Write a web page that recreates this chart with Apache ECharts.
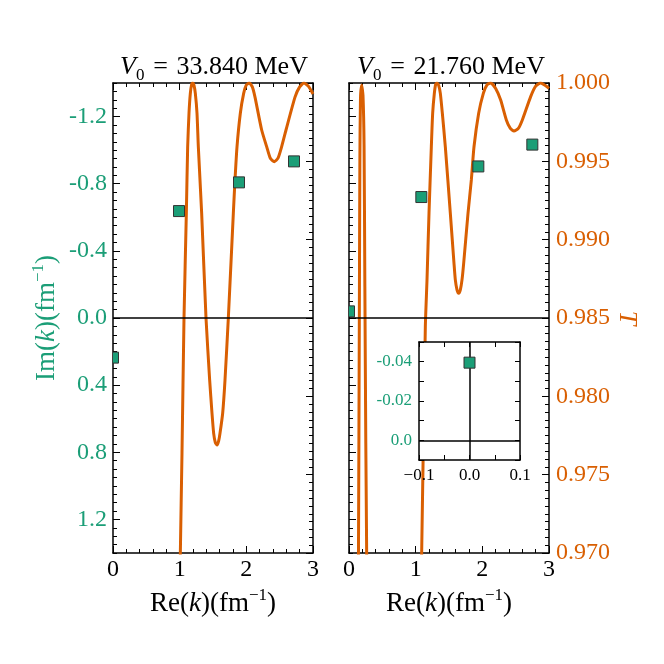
<!DOCTYPE html>
<html>
<head>
<meta charset="utf-8">
<script src="https://cdn.jsdelivr.net/npm/echarts@6/dist/echarts.min.js"></script>
<style>
html, body { margin: 0; padding: 0; background: #fff; }
#chart { width: 664px; height: 664px; }
</style>
</head>
<body>
<div id="chart"></div>
<script>
// T(Re k) curves: [Re(k), T]
const curveLeft = [
    [0.0, 0.900], [0.995, 0.965], [1.01, 0.970], [1.035, 0.9764], [1.065, 0.9850],
    [1.10, 0.99168], [1.12, 0.99593], [1.14, 0.99807], [1.16, 0.99934], [1.18, 0.99992],
    [1.195, 1.0], [1.215, 0.99985], [1.235, 0.99934], [1.26, 0.99807], [1.28, 0.99593],
    [1.33, 0.99168], [1.395, 0.9850], [1.45, 0.98104], [1.485, 0.97892], [1.51, 0.97764],
    [1.535, 0.97705], [1.56, 0.97689], [1.585, 0.97715], [1.605, 0.97764], [1.645, 0.97892],
    [1.68, 0.98104], [1.73, 0.9850], [1.805, 0.99168], [1.83, 0.99381], [1.86, 0.99593],
    [1.91, 0.99807], [1.96, 0.99934], [2.0, 0.99988], [2.045, 1.0], [2.09, 0.99975],
    [2.13, 0.9991], [2.23, 0.9970], [2.305, 0.99594], [2.36, 0.9952], [2.42, 0.99498],
    [2.475, 0.9952], [2.53, 0.99594], [2.595, 0.9970], [2.73, 0.9991], [2.80, 0.99975],
    [2.865, 1.0], [2.93, 0.9998], [3.0, 0.9993],
];
const curveRight = [
    [0.0, 0.900], [0.13, 0.962], [0.142, 0.970], [0.155, 0.985], [0.163, 0.995],
    [0.172, 0.999], [0.19, 0.99985], [0.21, 0.9992], [0.226, 0.996], [0.238, 0.987],
    [0.252, 0.977], [0.265, 0.970], [0.275, 0.962], [0.6, 0.900], [1.07, 0.962],
    [1.09, 0.970], [1.145, 0.98444], [1.17, 0.98743], [1.20, 0.99168], [1.235, 0.99593],
    [1.255, 0.99807], [1.28, 0.99934], [1.30, 0.99992], [1.32, 1.0], [1.345, 0.99985],
    [1.37, 0.99934], [1.40, 0.99807], [1.445, 0.99593], [1.52, 0.99168], [1.575, 0.98849],
    [1.595, 0.98743], [1.62, 0.98680], [1.645, 0.98658], [1.67, 0.98680], [1.695, 0.98743],
    [1.72, 0.98849], [1.785, 0.99168], [1.835, 0.99381], [1.875, 0.99593], [1.945, 0.99807],
    [2.015, 0.99934], [2.07, 0.99988], [2.125, 1.0], [2.20, 0.99965], [2.275, 0.99891],
    [2.36, 0.99764], [2.42, 0.99710], [2.475, 0.99694], [2.54, 0.99710], [2.6, 0.99764],
    [2.725, 0.99913], [2.8, 0.9998], [2.875, 1.0], [2.94, 0.99985], [3.0, 0.99966],
];
// poles in the complex k plane: [Re(k), Im(k)]
const polesLeft = [[0.0, 0.236], [0.99, -0.637], [1.89, -0.808], [2.715, -0.933]];
const polesRight = [[0.0, -0.0395], [1.085, -0.7206], [1.94, -0.903], [2.75, -1.033]];

const titles = ['33.840', '21.760'];
const imTicks = [-1.2, -0.8, -0.4, 0.0, 0.4, 0.8, 1.2];
const insetImLabels = [-0.04, -0.02, 0.0];
const insetReLabels = [-0.1, 0.0, 0.1];

const FONT = 'Liberation Serif';
const GREEN = '#1b9e77';
const ORANGE = '#d95f02';

function rich(color, size) {
    const s = size || 26;
    return {
        n: {fontFamily: FONT, fontSize: s, lineHeight: 34, color},
        i: {fontFamily: FONT, fontStyle: 'italic', fontSize: s, lineHeight: 34, color},
        sup: {fontFamily: FONT, fontSize: 17, lineHeight: 17, verticalAlign: 'top', color},
        sub: {fontFamily: FONT, fontSize: 17, lineHeight: 17, verticalAlign: 'bottom', color},
    };
}

const spine = {show: true, onZero: false, lineStyle: {color: '#000', width: 1.5}};
const tickStyle = {color: '#000', width: 1};
const noSplit = {show: false};

function xPair(gridIndex, labels) {
    const base = {
        type: 'value', gridIndex, min: 0, max: 3, interval: 1,
        axisLine: spine,
        axisTick: {inside: true, length: 7, lineStyle: tickStyle},
        minorTick: {show: true, splitNumber: 5, length: 4, lineStyle: tickStyle},
        splitLine: noSplit, minorSplitLine: noSplit,
    };
    return [
        {...base, position: 'bottom',
            axisLabel: {show: labels, margin: 5, color: '#000', fontFamily: FONT, fontSize: 24},
            name: '{n|Re(}{i|k}{n|)(fm}{sup|−1}{n|)}', nameLocation: 'middle', nameGap: 32,
            nameTextStyle: {rich: rich('#000', 27)}},
        {...base, position: 'top', axisLabel: {show: false}},
    ];
}

function imPair(gridIndex, labels) {
    const major = {
        type: 'value', gridIndex, position: 'left', min: -1.4, max: 1.4, inverse: true,
        axisLine: spine,
        axisTick: {inside: true, length: 7, lineStyle: tickStyle, customValues: imTicks},
        axisLabel: {show: labels, customValues: imTicks, margin: 6, color: GREEN,
            fontFamily: FONT, fontSize: 24, formatter: v => v.toFixed(1)},
        splitLine: noSplit,
    };
    if (labels) {
        Object.assign(major, {
            name: '{n|Im(}{i|k}{n|)(fm}{sup|−1}{n|)}', nameLocation: 'middle', nameGap: 49,
            nameRotate: 90, nameTextStyle: {rich: rich(GREEN, 27)},
        });
    }
    const minor = {
        type: 'value', gridIndex, position: 'left', min: -1.4, max: 1.4, inverse: true,
        interval: 0.05,
        axisLine: {show: false, onZero: false},
        axisTick: {inside: true, length: 4, lineStyle: tickStyle},
        axisLabel: {show: false},
        splitLine: noSplit,
    };
    return [major, minor];
}

function tAxis(gridIndex, labels) {
    const ax = {
        type: 'value', gridIndex, position: 'right', min: 0.970, max: 1.000, interval: 0.005,
        axisLine: spine,
        axisTick: {inside: true, length: 7, lineStyle: tickStyle},
        minorTick: {show: true, splitNumber: 10, length: 4, lineStyle: tickStyle},
        axisLabel: {show: labels, margin: 7, color: ORANGE, fontFamily: FONT, fontSize: 24,
            formatter: v => v.toFixed(3)},
        splitLine: noSplit, minorSplitLine: noSplit,
    };
    if (labels) {
        Object.assign(ax, {
            name: '{i|T}', nameLocation: 'middle', nameGap: 61, nameRotate: -90,
            nameTextStyle: {rich: rich(ORANGE)},
        });
    }
    return ax;
}

const insetBase = {
    gridIndex: 2, z: 11,
    axisLine: spine,
    axisTick: {inside: true, length: 5, lineStyle: tickStyle},
    splitLine: noSplit,
};
const near = (v, list) => list.some(x => Math.abs(x - v) < 1e-6);
const insetX = {
    ...insetBase, type: 'value', min: -0.1, max: 0.1, interval: 0.05,
    axisLabel: {margin: 7, color: '#000', fontFamily: FONT, fontSize: 17,
        formatter: v => near(v, insetReLabels) ? v.toFixed(1).replace('-', '−') : ''},
};
const insetY = {
    ...insetBase, type: 'value', min: -0.05, max: 0.01, interval: 0.01, inverse: true,
    axisLabel: {margin: 7, color: GREEN, fontFamily: FONT, fontSize: 17,
        formatter: v => near(v, insetImLabels) ? (Math.abs(v) < 1e-9 ? '0.0' : v.toFixed(2)) : ''},
};

const zeroLine = {
    silent: true, symbol: ['none', 'none'], animation: false,
    label: {show: false},
    lineStyle: {color: '#000', width: 1.5, type: 'solid'},
    emphasis: {disabled: true},
};

// squares drawn as a custom series so they get clipped at the frame
function renderSquare(params, api) {
    const p = api.coord([api.value(0), api.value(1)]);
    return {
        type: 'rect',
        shape: {x: p[0] - 5.5, y: p[1] - 5.5, width: 11, height: 11},
        style: {fill: GREEN, stroke: '#333', lineWidth: 1},
    };
}
const squares = {
    type: 'custom', renderItem: renderSquare, clip: true, z: 4,
    encode: {x: 0, y: 1},
    emphasis: {disabled: true},
};

const curve = {
    type: 'line', showSymbol: false, smooth: 0.2, clip: true, z: 2,
    lineStyle: {color: ORANGE, width: 3},
    emphasis: {disabled: true},
};

const titleRich = rich('#000');
const titleText = (v, x) => ({
    type: 'text', x, y: 67,
    style: {
        text: `{i|V}{sub|0}{n|\u200a = \u200a${v} MeV}`,
        rich: titleRich, align: 'center', verticalAlign: 'middle',
    },
});

const chart = echarts.init(document.getElementById('chart'), null, {renderer: 'canvas'});

chart.setOption({
    animation: false,
    backgroundColor: '#fff',
    grid: [
        {left: 113, top: 83, width: 200, height: 470},
        {left: 349, top: 83, width: 200, height: 470},
        {left: 419, top: 342, width: 101, height: 118, show: true,
            backgroundColor: '#fff', borderWidth: 0, z: 10},
    ],
    xAxis: [...xPair(0, true), ...xPair(1, true),
        {...insetX, position: 'bottom'},
        {...insetX, position: 'top', axisLabel: {show: false}}],
    yAxis: [...imPair(0, true), tAxis(0, false),
        ...imPair(1, false), tAxis(1, true),
        {...insetY, position: 'left'},
        {...insetY, position: 'right', axisLabel: {show: false}}],
    graphic: [titleText(titles[0], 214), titleText(titles[1], 451)],
    series: [
        {...curve, xAxisIndex: 0, yAxisIndex: 2, data: curveLeft},
        {...squares, xAxisIndex: 0, yAxisIndex: 0, data: polesLeft,
            markLine: {...zeroLine, data: [{yAxis: 0}]}},
        {...curve, xAxisIndex: 2, yAxisIndex: 5, data: curveRight},
        {...squares, xAxisIndex: 2, yAxisIndex: 3, data: polesRight,
            markLine: {...zeroLine, data: [{yAxis: 0}]}},
        {...squares, xAxisIndex: 4, yAxisIndex: 6, data: polesRight, z: 14,
            markLine: {...zeroLine, z: 13, data: [{yAxis: 0}, {xAxis: 0}]}},
    ],
});
</script>
</body>
</html>
